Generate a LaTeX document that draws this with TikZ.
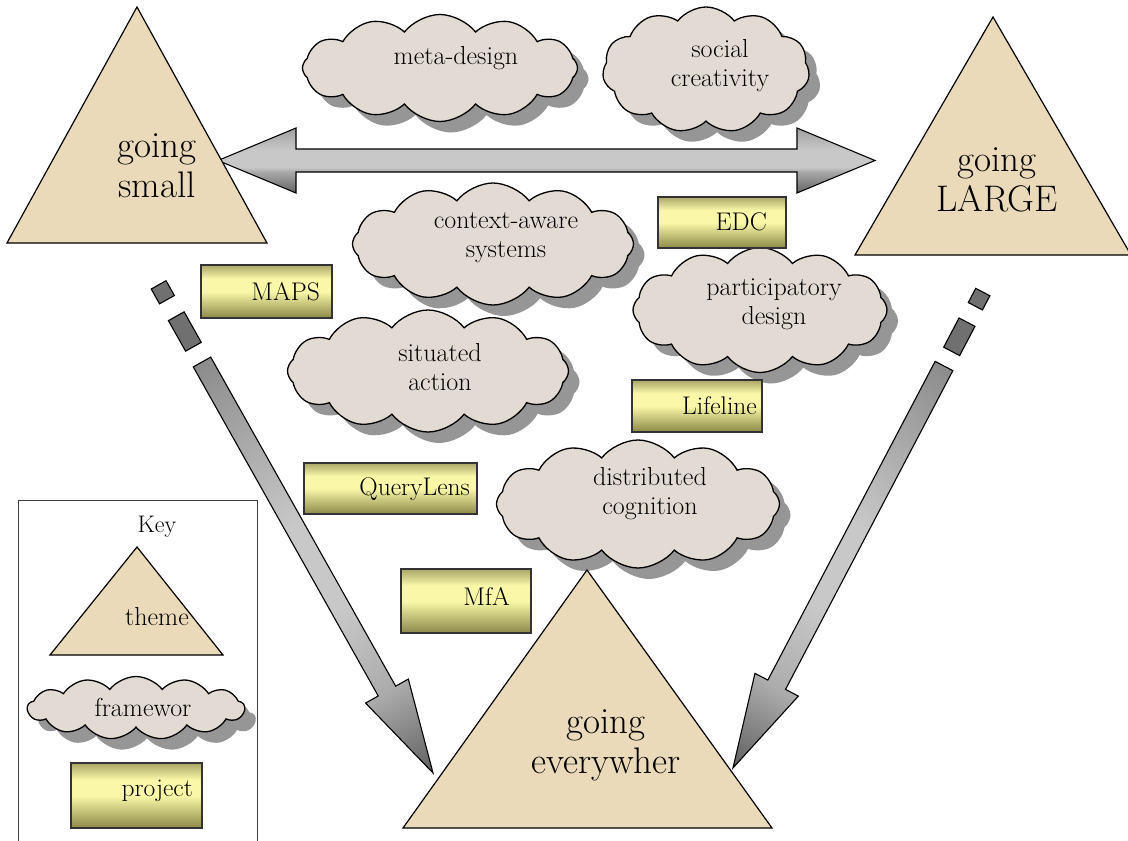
\documentclass[tikz,border=0pt]{standalone}
\usetikzlibrary{shapes.symbols,shadows,calc}
\definecolor{trifill}{RGB}{234,218,186}
\definecolor{cloudfill}{RGB}{226,219,211}
\definecolor{bxd}{RGB}{140,136,72}
\definecolor{bxl}{RGB}{250,248,168}
\definecolor{bxt}{RGB}{170,166,104}
\definecolor{ha1}{RGB}{100,100,100}
\definecolor{ha2}{RGB}{168,168,168}
\definecolor{ha3}{RGB}{200,200,200}
\definecolor{ha4}{RGB}{160,160,160}
\definecolor{da1}{RGB}{140,140,140}
\definecolor{da2}{RGB}{200,200,200}
\definecolor{da3}{RGB}{172,172,172}
\definecolor{da4}{RGB}{95,95,95}
\definecolor{dashgray}{RGB}{112,112,112}
\definecolor{shadowgray}{RGB}{150,150,150}
\pgfdeclareverticalshading{boxshade}{100bp}{color(0bp)=(bxd); color(25bp)=(bxd); color(50bp)=(bxl); color(62bp)=(bxl); color(75bp)=(bxt); color(100bp)=(bxt)}
\pgfdeclareverticalshading{harrowshade}{100bp}{color(0bp)=(ha1); color(25bp)=(ha1); color(41bp)=(ha2); color(45bp)=(ha3); color(58bp)=(ha3); color(75bp)=(ha4); color(100bp)=(ha4)}
\pgfdeclarehorizontalshading{darrowshade}{100bp}{color(0bp)=(da1); color(25bp)=(da1); color(45bp)=(da2); color(55bp)=(da2); color(65bp)=(da3); color(75bp)=(da4); color(100bp)=(da4)}
\tikzset{
  cloudnode/.style={cloud, cloud puffs=12, cloud puff arc=105,
    draw=black, line width=1.3pt, fill=cloudfill, inner sep=0pt,
    drop shadow={shadow xshift=11pt, shadow yshift=-11pt, fill=shadowgray, opacity=1}},
  projbox/.style={draw=black!80, line width=1.1pt, shade, shading=boxshade, inner sep=0pt},
  cloudtext/.style={font=\fontsize{26}{29}\selectfont, align=center, inner sep=0pt},
  boxtext/.style={font=\fontsize{25.5}{28}\selectfont, anchor=east, inner sep=0pt},
  tritext/.style={font=\fontsize{37}{40}\selectfont, align=center, inner sep=0pt},
  themetri/.style={draw=black, line width=1.2pt, fill=trifill, line join=miter},
  blockarrow/.style={draw=black, line width=1.1pt, line join=miter},
  dashpiece/.style={draw=black, line width=1.1pt, fill=dashgray},
}
\begin{document}
\begin{tikzpicture}[x=1pt,y=-1pt]
\useasboundingbox (0,0) rectangle (1128,841);

% ---------- horizontal double arrow ----------
\coordinate (hL) at (218,160.5);
\coordinate (hR) at (875,160.5);
\shade[blockarrow, shading=harrowshade]
  (hL) -- (296,128) -- (296,149) -- (797,149) -- (797,128) -- (hR)
  -- (797,193) -- (797,172) -- (296,172) -- (296,193) -- cycle;

% ---------- left diagonal arrow ----------
\coordinate (dLs) at (202,362);
\coordinate (dLt) at (433,773);
\begin{scope}[transform canvas={shift={(202,362)}, rotate=-60.66}]
  \shade[blockarrow, shading=darrowshade]
    (0,-10) -- (377.5,-10) -- (377.5,-24.5) -- (471.5,0) -- (377.5,24.5) -- (377.5,10) -- (0,10) -- cycle;
  \filldraw[dashpiece] (-52.5,-9) rectangle (-17.5,9);
  \filldraw[dashpiece] (-88.5,-8.5) rectangle (-71.5,8.5);
\end{scope}

% ---------- right diagonal arrow ----------
\coordinate (dRs) at (944,366);
\coordinate (dRt) at (733,768);
\begin{scope}[transform canvas={shift={(944,366)}, rotate=-117.7}]
  \shade[blockarrow, shading=darrowshade]
    (0,-10) -- (360,-10) -- (360,-24.5) -- (454,0) -- (360,24.5) -- (360,10) -- (0,10) -- cycle;
  \filldraw[dashpiece] (-49.5,-9) rectangle (-16.5,9);
  \filldraw[dashpiece] (-83.5,-8) rectangle (-67.5,8);
\end{scope}

% ---------- clouds (frameworks) ----------
\node[cloudnode, aspect=2.57, minimum width=275pt, minimum height=107pt] (meta) at (440,68) {};
\node[cloudnode, aspect=1.64, cloud puffs=11, minimum width=207pt, minimum height=126pt] (social) at (706,70) {};
\node[cloudnode, aspect=2.3, minimum width=281pt, minimum height=122pt] (context) at (493,244) {};
\node[cloudnode, aspect=2.3, minimum width=281pt, minimum height=122pt] (situated) at (428,371) {};
\node[cloudnode, aspect=2.03, minimum width=254pt, minimum height=125pt] (particip) at (760,310) {};
\node[cloudnode, aspect=2.2, minimum width=283pt, minimum height=128pt] (distrib) at (638,504) {};

\node[cloudtext] (metat) at (456,58) {meta-design};
\node[cloudtext] (socialt) at (720,66) {social\\creativity};
\node[cloudtext] (contextt) at (506,238) {context-aware\\systems};
\node[cloudtext] (situatedt) at (440,367) {situated\\action};
\node[cloudtext] (participt) at (774,304) {participatory\\design};
\node[cloudtext] (distribt) at (650,494) {distributed\\cognition};

% ---------- triangles (themes) ----------
\coordinate (gsT) at (137,7);
\coordinate (gsL) at (7,243);
\coordinate (gsR) at (267,243);
\draw[themetri] (gsT) -- (gsR) -- (gsL) -- cycle;
\node[tritext] (gsmall) at (157,166) {going\\small};

\coordinate (glT) at (993,17);
\coordinate (glL) at (855,255);
\coordinate (glR) at (1131,255);
\draw[themetri] (glT) -- (glR) -- (glL) -- cycle;
\node[tritext] (glarge) at (997,180) {going\\LARGE};

\coordinate (geT) at (587,570);
\coordinate (geL) at (403,828);
\coordinate (geR) at (772,828);
\draw[themetri] (geT) -- (geR) -- (geL) -- cycle;
\node[tritext] (gevery) at (606,745) {going\\everywher};

% ---------- project boxes ----------
\node[projbox, minimum width=131pt, minimum height=53pt] (maps) at (266.5,291.5) {};
\node[boxtext] (mapst) at (320,292) {MAPS};
\node[projbox, minimum width=128pt, minimum height=51pt] (edc) at (722,222.5) {};
\node[boxtext] (edct) at (767,222) {EDC};
\node[projbox, minimum width=130pt, minimum height=52pt] (life) at (697,406) {};
\node[boxtext] (lifet) at (757,406) {Lifeline};
\node[projbox, minimum width=173pt, minimum height=51pt] (query) at (390.5,488.5) {};
\node[boxtext] (queryt) at (470,489) {QueryLens};
\node[projbox, minimum width=130pt, minimum height=64pt] (mfa) at (466,601) {};
\node[boxtext] (mfat) at (510,596) {MfA};

% ---------- key ----------
\draw[line width=0.8pt, draw=black!75] (18,845) -- (18,500) -- (257,500) -- (257,845);
\node[cloudtext, font=\fontsize{24}{28}\selectfont] (keyt) at (157,527) {Key};
\coordinate (kT) at (137,547);
\coordinate (kL) at (50,655);
\coordinate (kR) at (223,655);
\draw[themetri] (kT) -- (kR) -- (kL) -- cycle;
\node[cloudtext, anchor=base] (themet) at (157,625) {theme};
\node[cloudnode, aspect=3.4, cloud puffs=13, minimum width=217pt, minimum height=63pt] (keycloud) at (136,708) {};
\node[cloudtext] (frameworkt) at (143,707) {framewor};
\node[projbox, minimum width=131pt, minimum height=65pt] (keybox) at (136.5,795.5) {};
\node[boxtext] (projectt) at (193,791) {project};
\end{tikzpicture}
\end{document}
